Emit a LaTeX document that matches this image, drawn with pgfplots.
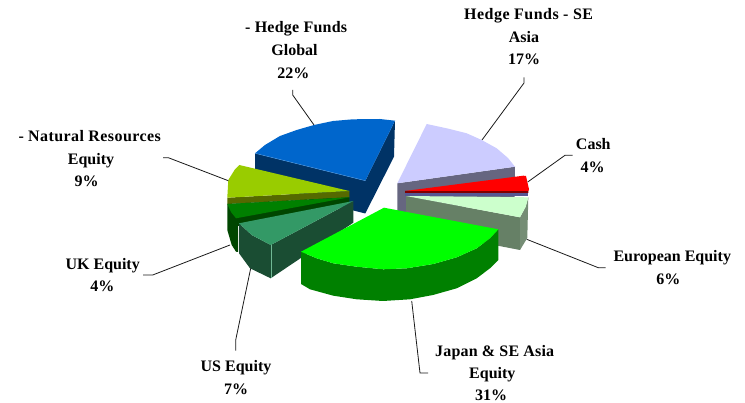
\documentclass[border=0pt]{standalone}
\usepackage{pgfplots}
\pgfplotsset{compat=1.18}
\usepackage{fontspec}
\setmainfont{Liberation Serif}
\definecolor{blueT}{RGB}{0,102,204}
\definecolor{blueS}{RGB}{0,51,102}
\definecolor{lavT}{RGB}{204,204,255}
\definecolor{lavS}{RGB}{102,102,128}
\definecolor{redT}{RGB}{255,0,0}
\definecolor{redS}{RGB}{128,0,0}
\definecolor{mintT}{RGB}{204,255,204}
\definecolor{mintS}{RGB}{102,128,102}
\definecolor{limeT}{RGB}{0,255,0}
\definecolor{limeS}{RGB}{0,128,0}
\definecolor{tealT}{RGB}{51,153,102}
\definecolor{tealS}{RGB}{26,77,51}
\definecolor{ukT}{RGB}{0,128,0}
\definecolor{ukS}{RGB}{0,70,0}
\definecolor{oliveT}{RGB}{153,204,0}
\definecolor{oliveS}{RGB}{85,105,0}
\definecolor{leader}{RGB}{25,25,25}
\newcommand{\lab}[4]{\node[anchor=#1,inner sep=0pt,font=\fontsize{16}{20}\selectfont\bfseries] at (axis cs:#2,#3) {#4};}
\newcommand{\spaced}[2]{\addfontfeature{LetterSpace=#1}#2}
\begin{document}
\begin{tikzpicture}
\begin{axis}[
  scale only axis, width=745pt, height=403pt,
  xmin=0, xmax=745, ymin=0, ymax=403, y dir=reverse,
  hide axis, clip=false, no markers]
% pixel-read outlines, back to front
% Hedge Funds Global
\addplot[fill=blueS,draw=none] coordinates {(255,153.3)(365.3,180.7)(395,120.7)(394,156.7)(365.3,213.5)(255,186)} --cycle;
\addplot[fill=blueT,draw=none] coordinates {(255,153.3)(265,145)(280,136)(296.7,130)(314,125)(333,121)(353,119.3)(380,119)(395,120.7)(365.3,180.7)} --cycle;
\addplot[color=blueT!70!white,line width=0.4pt] coordinates {(255,153.3)(365.3,180.7)};
% Hedge Funds SE Asia
\addplot[fill=lavS,draw=none] coordinates {(397.3,183.3)(515,166.7)(514.5,200)(397.3,215)} --cycle;
\addplot[fill=lavT,draw=none] coordinates {(397.3,183.3)(426.7,124)(446.7,128.3)(466.7,133.3)(481.7,140)(496.7,148.3)(508,158)(515,166.7)} --cycle;
% Cash
\addplot[fill=lavS!85!blue,draw=none] coordinates {(405,192)(528.3,192)(528.3,196.5)(405,196.5)} --cycle;
\addplot[fill=redS,draw=none] coordinates {(405,191)(528.5,190.5)(528.3,193)(405,193)} --cycle;
\addplot[fill=redT,draw=none] coordinates {(405,191)(523.3,175.7)(526,176)(529,189.3)(528.3,191)} --cycle;
% European Equity
\addplot[fill=mintS,draw=none] coordinates {(406,196)(520,217.3)(520,250)(406,228)} --cycle;
\addplot[fill=mintS!90!white,draw=none] coordinates {(520,217.3)(525.7,206.7)(528.3,197.3)(527.3,238)(520,250)} --cycle;
\addplot[fill=mintT,draw=none] coordinates {(406,196)(528.3,197.3)(525.7,206.7)(520,217.3)} --cycle;
% Natural Resources
\addplot[fill=oliveS,draw=none] coordinates {(227.3,197.7)(349.3,191)(349.3,197.5)(227.3,204)} --cycle;
\addplot[fill=oliveT,draw=none] coordinates {(227.3,197.7)(228.3,180)(235,169.3)(239.3,165)(349.3,191)} --cycle;
% UK Equity
\addplot[fill=ukS,draw=none] coordinates {(227.3,204)(349.3,197.3)(349.3,203.5)(238,226)(238,252)(236,251.7)(231.7,245)(227.3,230)} --cycle;
\addplot[fill=ukT,draw=none] coordinates {(227.3,204)(349.3,197.3)(236,218.3)(231,212)} --cycle;
% US Equity
\addplot[fill=tealS,draw=none] coordinates {(239,223.3)(251.7,235)(270.7,245)(353.3,201)(353.3,222.7)(270.7,278.3)(250,268.3)(239,253.3)} --cycle;
\addplot[fill=tealT,draw=none] coordinates {(239,223.3)(353.3,201)(270.7,245)(251.7,235)} --cycle;
\addplot[color=tealT!70!white,line width=0.4pt] coordinates {(270.7,245)(270.7,278.3)};
% Japan & SE Asia Equity
\addplot[fill=limeS,draw=none] coordinates {(301,251.7)(316.7,258.3)(333.3,263.3)(356.7,266.7)(383.3,269.3)(406.7,268.3)(433.3,264)(456.7,257.3)(476.7,248.3)(490,238.3)(498.3,229.3)(498.3,260)(490,268.3)(476.7,278.3)(456.7,288.3)(433,295)(410,299.3)(383,301)(356.7,299.3)(333.3,295.7)(310,289.3)(301,284)} --cycle;
\addplot[fill=limeT,draw=none] coordinates {(384,207.7)(498.3,229.3)(490,238.3)(476.7,248.3)(456.7,257.3)(433.3,264)(406.7,268.3)(383.3,269.3)(356.7,266.7)(333.3,263.3)(316.7,258.3)(301,251.7)} --cycle;
% leader lines
\addplot[color=leader,line width=0.8pt] coordinates {(292.7,90)(292.7,95)(314,125)};
\addplot[color=leader,line width=0.8pt] coordinates {(524,77.3)(524,83)(482,140)};
\addplot[color=leader,line width=0.8pt] coordinates {(572.7,155.3)(565,155.3)(527.7,182)};
\addplot[color=leader,line width=0.8pt] coordinates {(526.7,239.3)(598.3,267.7)(605.7,267.7)};
\addplot[color=leader,line width=0.8pt] coordinates {(411.7,301)(420,373)(428,373)};
\addplot[color=leader,line width=0.8pt] coordinates {(250.7,268.3)(235.7,340)(235.7,350.7)};
\addplot[color=leader,line width=0.8pt] coordinates {(228.3,180.7)(168.3,157.7)(163,157.7)};
\addplot[color=leader,line width=0.8pt] coordinates {(230,245)(152.7,275)(143,275)};
% labels
\lab{base west}{245}{32.7}{\spaced{1.5}{- Hedge Funds}}
\lab{base}{294.5}{56}{Global}
\lab{base}{293.3}{78.3}{22\%}
\lab{base west}{464}{20}{\spaced{3}{Hedge Funds - SE}}
\fill[white] (axis cs:591.7,4) rectangle (axis cs:600,26);
\lab{base}{524}{42.7}{Asia}
\lab{base}{524}{65}{17\%}
\lab{base}{593.3}{150}{Cash}
\lab{base}{592.7}{172.7}{4\%}
\lab{base west}{613.3}{261.7}{European Equity}
\lab{base}{668.3}{285}{6\%}
\lab{base west}{435}{356.7}{\spaced{1.2}{Japan \& SE Asia}}
\lab{base}{492.3}{378.3}{Equity}
\lab{base}{491}{400.5}{31\%}
\lab{base}{236}{371.7}{US Equity}
\lab{base}{236}{395}{7\%}
\lab{base west}{18.3}{142}{\spaced{2.6}{- Natural Resources}}
\lab{base}{91}{164.3}{Equity}
\lab{base}{86.7}{186.7}{9\%}
\lab{base}{102.7}{270}{UK Equity}
\lab{base}{102.3}{291.7}{4\%}
\coordinate (pageSW) at (axis cs:0,403);
\coordinate (pageNE) at (axis cs:745,0);
\end{axis}
\pgfresetboundingbox
\useasboundingbox (pageSW) rectangle (pageNE);
\end{tikzpicture}
\end{document}
